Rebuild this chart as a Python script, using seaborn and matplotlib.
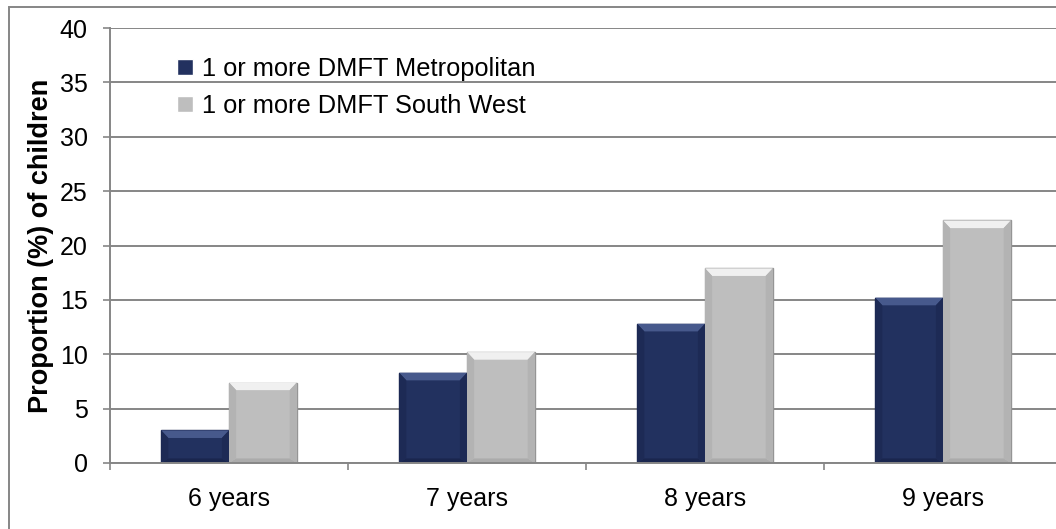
import matplotlib
matplotlib.use("Agg")
import matplotlib.pyplot as plt
import seaborn as sns
import pandas as pd
from matplotlib.patches import Rectangle, Polygon

# values
ages = ["6 years", "7 years", "8 years", "9 years"]
metro = [3.0, 8.3, 12.8, 15.2]
south_west = [7.4, 10.2, 17.9, 22.3]
series = ["1 or more DMFT Metropolitan", "1 or more DMFT South West"]
y_ticks = [0, 5, 10, 15, 20, 25, 30, 35, 40]

df = pd.DataFrame({
    "age": ages * 2,
    "value": metro + south_west,
    "series": [series[0]] * len(ages) + [series[1]] * len(ages),
})

sns.set_theme(style="white")
plt.rcParams["font.family"] = ["Liberation Sans", "DejaVu Sans"]
plt.rcParams["text.color"] = "black"

W, H = 1056, 529
fig = plt.figure(figsize=(W / 100, H / 100), dpi=100)
ax = fig.add_axes([110 / W, (H - 463) / H, (1062 - 110) / W, (463 - 28) / H])

grid_col = "#868686"
sns.barplot(data=df, x="age", y="value", hue="series",
            palette=["#22315F", "#BEBEBE"], saturation=1, width=0.57,
            ax=ax, zorder=3)

# bevel shading: edge colour, top highlight, side/bottom shade
edge_cols = ["#16204A", "#959595"]
top_cols = ["#47598C", "#F0F0F0"]
side_cols = ["#1D2A55", "#B3B3B3"]
bot_cols = ["#1A264E", "#ABABAB"]
bx, by = 0.03, 0.7
for cont, ec, tc, sc, bc in zip(ax.containers, edge_cols, top_cols, side_cols, bot_cols):
    for bar in cont:
        bar.set_edgecolor(ec)
        bar.set_linewidth(1.0)
        x0, w, h = bar.get_x(), bar.get_width(), bar.get_height()
        x1 = x0 + w
        b = min(by, h / 3)
        shapes = [
            ([(x0, h), (x1, h), (x1 - bx, h - b), (x0 + bx, h - b)], tc),
            ([(x0, 0), (x1, 0), (x1 - bx, b * 0.6), (x0 + bx, b * 0.6)], bc),
            ([(x0, 0), (x0 + bx, b * 0.6), (x0 + bx, h - b), (x0, h)], sc),
            ([(x1, 0), (x1 - bx, b * 0.6), (x1 - bx, h - b), (x1, h)], sc),
        ]
        for pts, col in shapes:
            ax.add_patch(Polygon(pts, closed=True, facecolor=col,
                                 edgecolor="none", zorder=3.5))

ax.set_ylim(0, 40)
ax.set_yticks(y_ticks)
ax.set_xlim(-0.5, len(ages) - 0.5)
ax.yaxis.grid(True, color=grid_col, linewidth=1.4)
ax.set_axisbelow(True)

for side in ["top", "right"]:
    ax.spines[side].set_visible(False)
for side in ["left", "bottom"]:
    ax.spines[side].set_color(grid_col)
    ax.spines[side].set_linewidth(1.4)
    ax.spines[side].set_zorder(4)

ax.tick_params(axis="y", which="major", direction="out", length=5, width=1.2,
               color=grid_col, left=True, pad=11, labelsize=18, labelcolor="black")
ax.set_xticks([i - 0.5 for i in range(len(ages) + 1)], minor=True)
ax.tick_params(axis="x", which="minor", direction="out", length=5, width=1.2,
               color=grid_col, bottom=True)
ax.tick_params(axis="x", which="major", length=0, pad=17, labelsize=18,
               labelcolor="black")

ax.set_xlabel("")
ax.set_ylabel("Proportion (%) of children", fontsize=19.5, fontweight="bold",
              color="black")
ax.yaxis.set_label_coords((41 - 110) / 952, 0.5)
ax.yaxis.label.set_va("center")

leg = ax.legend(loc="upper left", bbox_to_anchor=(177 / W, 1 - 57 / H),
                bbox_transform=fig.transFigure, frameon=False, fontsize=18.3,
                handlelength=0.62, handleheight=0.62, handletextpad=0.35,
                labelspacing=0.5, borderpad=0, borderaxespad=0)
for t in leg.get_texts():
    t.set_color("black")

fig.add_artist(Rectangle((9 / W, -0.05), 1.1, 1 - 7 / H + 0.05,
                         transform=fig.transFigure, fill=False,
                         edgecolor=grid_col, linewidth=1.4))

fig.savefig("out.png", dpi=100)
